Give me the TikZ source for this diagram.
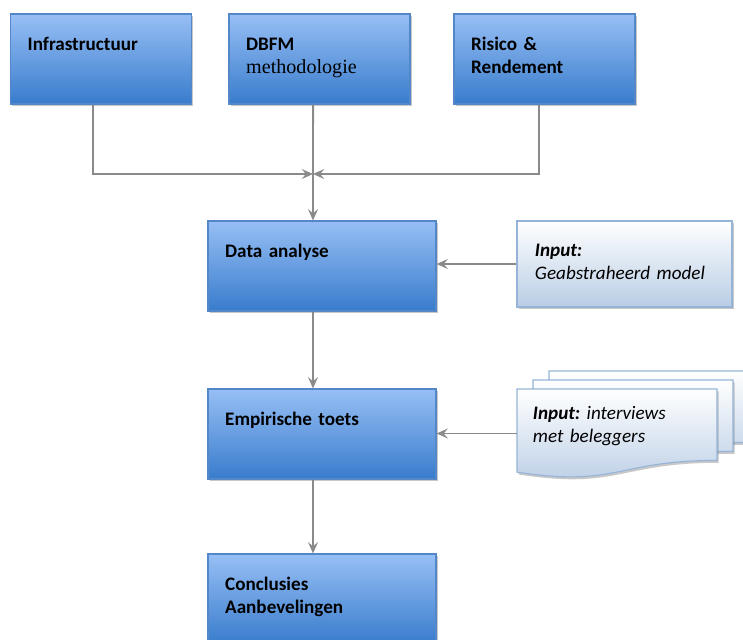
\documentclass[tikz,border=0pt]{standalone}
\usepackage{fontspec}
\setmainfont{Carlito}
\newfontfamily\serifletter{Liberation Serif}
\usepackage{xcolor}
\definecolor{blokBoven}{RGB}{151, 191, 245}
\definecolor{blokMidden}{RGB}{108, 158, 228}
\definecolor{blokOnder}{RGB}{56, 124, 204}
\definecolor{blokRand}{RGB}{84, 135, 200}
\definecolor{invoerOnder}{RGB}{185, 205, 229}
\definecolor{invoerRand}{RGB}{150, 180, 215}
\definecolor{lijnGrijs}{RGB}{138, 138, 138}
\usetikzlibrary{arrows.meta,shadows,calc}
\frenchspacing

\begin{document}
\begin{tikzpicture}[x=0.025cm, y=-0.025cm,
  schaduw/.style={drop shadow={shadow xshift=0.04cm, shadow yshift=-0.06cm, opacity=0.3, fill=black!70}},
  blok/.style={rectangle, draw=blokRand, line width=0.8pt, top color=blokBoven, middle color=blokMidden,
    bottom color=blokOnder, schaduw, minimum width=#1, minimum height=2.25cm, inner xsep=0.43cm,
    inner ysep=0pt, text width=#1-0.86cm, text height=0.9cm, text depth=1.35cm, align=left,
    font=\fontsize{13.6}{17}\selectfont\bfseries},
  blok/.default=4.525cm,
  invoer/.style={rectangle, draw=invoerRand, line width=0.8pt, top color=white, bottom color=invoerOnder,
    schaduw, minimum width=5.375cm, minimum height=2.15cm, inner xsep=0.45cm, inner ysep=0pt,
    text width=4.475cm, text height=0.875cm, text depth=1.275cm, align=left,
    font=\fontsize{13.6}{16.5}\selectfont\itshape},
  docvorm/.style={draw=invoerRand, line width=0.8pt, top color=white, bottom color=invoerOnder, schaduw},
  doctekst/.style={rectangle, minimum width=5cm, minimum height=2.225cm, inner xsep=0.4cm, inner ysep=0pt,
    text width=4.2cm, text height=0.75cm, text depth=1.475cm, align=left,
    font=\fontsize{13.6}{16.5}\selectfont\itshape},
  pijl/.style={-{Stealth[length=8pt, width=7pt, inset=3pt]}, line width=1.3pt, lijnGrijs}
]
\useasboundingbox (0,0) rectangle (743,639);
\fill[white] (0,0) rectangle (743,639);
\clip (0,0) rectangle (743,639);

% bovenste rij
\node[blok] (infra) at (101,59) {Infrastructuur};
\node[blok] (dbfm) at (319.5,59) {DBFM\\{\serifletter\mdseries\fontsize{14.3}{17}\selectfont methodologie}};
\node[blok] (risico) at (544.5,59) {Risico \&\\Rendement};

% hoofdlijn
\node[blok=5.7cm] (data) at (322,266) {Data analyse};
\node[blok=5.7cm] (empirisch) at (322,434) {Empirische toets};
\node[blok=5.7cm] (conclusies) at (322,599) {Conclusies\\Aanbevelingen};

% invoer
\node[invoer] (model) at (624.5,264) {{\bfseries Input:}\\Geabstraheerd model};

\foreach \dx/\dy in {32/-18, 16/-9, 0/0} {
  \begin{scope}[shift={(517+\dx,389+\dy)}]
    \draw[docvorm] (0,0) -- (200,0) -- (200,71.4) .. controls (100,71.4) and (100,98.6) .. (0,83.1) -- cycle;
  \end{scope}
}
\node[doctekst] (interviews) at (617,433.5) {{\bfseries Input:} interviews\\met beleggers};

% verbindingen
\coordinate (samen) at (313,174);
\draw[pijl] ([xshift=-0.2cm]infra.south) |- (samen);
\draw[pijl] ([xshift=-0.14cm]risico.south) |- (samen);
\draw[pijl] ([xshift=-0.16cm]dbfm.south) -- (data.north -| samen);
\draw[pijl] (data.south -| samen) -- (empirisch.north -| samen);
\draw[pijl] (empirisch.south -| samen) -- (conclusies.north -| samen);
\draw[pijl] (model.west) -- (data.east |- model.west);
\draw[pijl] (interviews.west) -- (empirisch.east |- interviews.west);
\end{tikzpicture}
\end{document}
